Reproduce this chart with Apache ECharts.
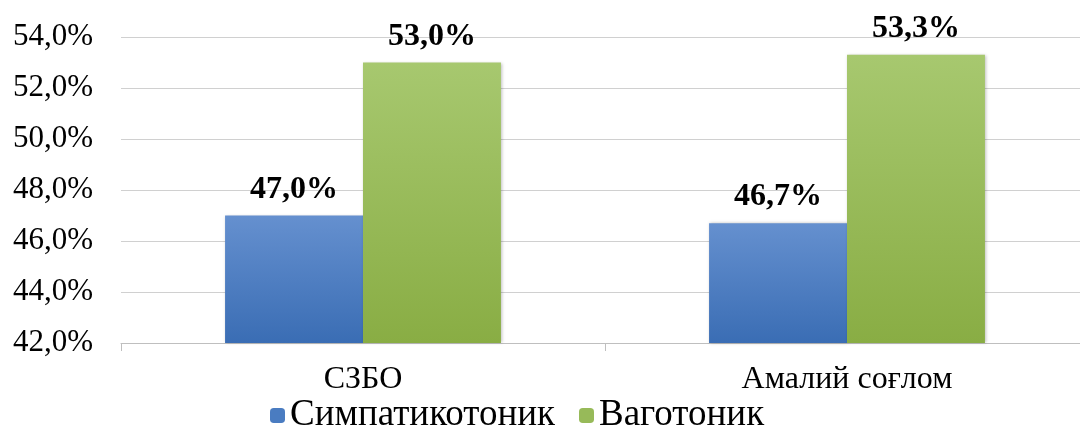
<!DOCTYPE html>
<html><head><meta charset="utf-8">
<script src="https://cdn.jsdelivr.net/npm/echarts@6/dist/echarts.min.js"></script>
<style>html,body{margin:0;padding:0;background:#fff}#c{width:1080px;height:425px}</style>
</head><body><div id="c"></div>
<script>
const categories = ['СЗБО', 'Амалий соғлом'];
const seriesNames = ['Симпатикотоник', 'Ваготоник'];
const sympathicotonic = [47.0, 46.7];
const vagotonic = [53.0, 53.3];
const yTicks = [42, 44, 46, 48, 50, 52, 54];

const fmt = v => v.toFixed(1).replace('.', ',') + '%';
const font = '"Liberation Serif", "Times New Roman", serif';
const chart = echarts.init(document.getElementById('c'));
const blue = new echarts.graphic.LinearGradient(0,0,0,1,[{offset:0,color:'#6590CF'},{offset:1,color:'#3A6DB4'}]);
const green = new echarts.graphic.LinearGradient(0,0,0,1,[{offset:0,color:'#A7C86F'},{offset:1,color:'#89AD44'}]);
chart.setOption({
  animation: false,
  grid: {left: 121, width: 968, top: 37, bottom: 82, outerBoundsMode: 'none', containLabel: false},
  legend: {
    top: 392, left: 265, itemWidth: 15, itemHeight: 15, itemGap: 24,
    textStyle: {fontFamily: font, fontSize: 37, color: '#000'},
    data: [{name: seriesNames[0], itemStyle: {color: '#4A7CC1'}}, {name: seriesNames[1], itemStyle: {color: '#97BA59'}}]
  },
  xAxis: {
    type: 'category', data: categories,
    axisLine: {lineStyle: {color: '#BFBFBF'}},
    axisTick: {show: true, length: 8, lineStyle: {color: '#BFBFBF'}},
    axisLabel: {fontFamily: font, fontSize: 32, color: '#000', margin: 21}
  },
  yAxis: {
    type: 'value', min: yTicks[0], max: yTicks[yTicks.length-1], interval: 2,
    axisLine: {show: false}, axisTick: {show: false},
    splitLine: {lineStyle: {color: '#D0D0D0', width: 1}},
    axisLabel: {fontFamily: font, fontSize: 31, color: '#000', margin: 28, formatter: v => fmt(v)}
  },
  series: [
    {name: seriesNames[0], type: 'bar', data: sympathicotonic, barGap: '0%', barCategoryGap: '43%',
     itemStyle: {color: blue, shadowColor: 'rgba(0,0,0,0.25)', shadowBlur: 3, shadowOffsetX: 1},
     label: {show: true, position: 'top', distance: 10, fontFamily: font, fontSize: 32, fontWeight: 'bold', color: '#000', formatter: p => fmt(p.value)}},
    {name: seriesNames[1], type: 'bar', data: vagotonic,
     itemStyle: {color: green, shadowColor: 'rgba(0,0,0,0.25)', shadowBlur: 3, shadowOffsetX: 1},
     label: {show: true, position: 'top', distance: 10, fontFamily: font, fontSize: 32, fontWeight: 'bold', color: '#000', formatter: p => fmt(p.value)}}
  ]
});
</script></body></html>
